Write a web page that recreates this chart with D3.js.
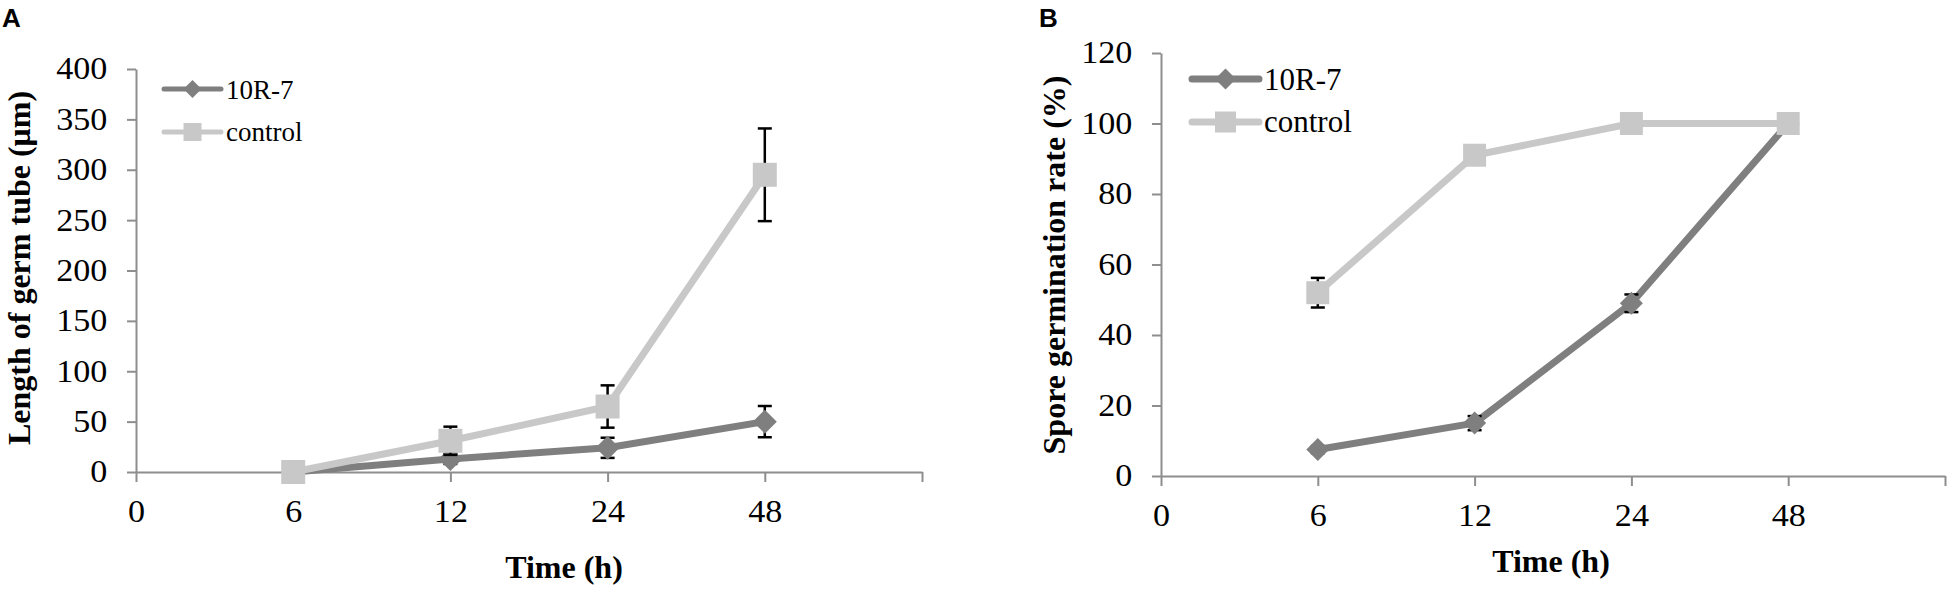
<!DOCTYPE html>
<html>
<head>
<meta charset="utf-8">
<script src="https://cdn.jsdelivr.net/npm/d3@7"></script>
<style>
  body { margin: 0; background: #fff; }
  svg { display: block; }
</style>
</head>
<body>
<div id="chart"></div>
<script>
// Data
var timeLabels = ["0", "6", "12", "24", "48", ""];
var hours = ["6", "12", "24", "48"];

// Panel A: length of germ tube (um)
var lenR7 = [0, 13, 24, 50];
var lenR7Err = [1, 5, 10, 15.5];
var lenCtrl = [0, 31, 65, 295];
var lenCtrlErr = [1, 14, 21, 46];
var lenTicks = [0, 50, 100, 150, 200, 250, 300, 350, 400];

// Panel B: spore germination rate (%)
var rateR7 = [7.5, 15, 49, 100];
var rateR7Err = [1, 2, 2.5, 0.5];
var rateCtrl = [52, 91, 100, 100];
var rateCtrlErr = [4.2, 1, 0.5, 0.5];
var rateTicks = [0, 20, 40, 60, 80, 100, 120];

var seriesNames = ["10R-7", "control"];

// Styles
var darkGray = "#7f7f7f";
var lightGray = "#c8c8c8";
var axisColor = "#8e8e8e";
var serif = "'Liberation Serif', 'Times New Roman', serif";

var svg = d3.select("#chart")
    .append("svg")
    .attr("width", 1951)
    .attr("height", 589);

function drawPanel(cfg) {
    var g = svg.append("g");

    var x = d3.scalePoint()
        .domain(timeLabels)
        .range(cfg.xRange);
    var y = d3.scaleLinear()
        .domain(d3.extent(cfg.ticks))
        .range(cfg.yRange);

    // Axes (labels are a bit wider than plain Times in the figure)
    var yAxis = g.append("g")
        .attr("transform", "translate(" + cfg.xRange[0] + ",0)")
        .call(d3.axisLeft(y).tickValues(cfg.ticks).tickSize(9).tickSizeOuter(0).tickPadding(17));
    var xAxis = g.append("g")
        .attr("transform", "translate(0," + cfg.yRange[0] + ")")
        .call(d3.axisBottom(x).tickSize(10).tickSizeOuter(0).tickPadding(18));

    [xAxis, yAxis].forEach(function(a) {
        a.selectAll("path, line").attr("stroke", axisColor).attr("stroke-width", 2);
        a.selectAll("text")
            .attr("fill", "#000")
            .attr("transform", "scale(1.1,1)")
            .style("font-family", serif)
            .style("font-size", "31px");
    });

    var series = [
        {vals: cfg.r7, err: cfg.r7Err, color: darkGray, shape: "diamond"},
        {vals: cfg.ctrl, err: cfg.ctrlErr, color: lightGray, shape: "square"}
    ];

    var line = d3.line()
        .x(function(d, i) { return x(hours[i]); })
        .y(function(d) { return y(d); });

    series.forEach(function(s) {
        g.append("path")
            .attr("d", line(s.vals))
            .attr("fill", "none")
            .attr("stroke", s.color)
            .attr("stroke-width", 7)
            .attr("stroke-linejoin", "round");

        // Error bars
        var eb = g.append("g").attr("stroke", "#000").attr("stroke-width", 2.5);
        s.vals.forEach(function(v, i) {
            var cx = x(hours[i]);
            var top = y(v + s.err[i]);
            var bot = y(Math.max(0, v - s.err[i]));
            eb.append("line").attr("x1", cx).attr("x2", cx).attr("y1", top).attr("y2", bot);
            eb.append("line").attr("x1", cx - 7).attr("x2", cx + 7).attr("y1", top).attr("y2", top);
            if (v - s.err[i] >= 0) {
                eb.append("line").attr("x1", cx - 7).attr("x2", cx + 7).attr("y1", bot).attr("y2", bot);
            }
        });

        // Markers
        var sym = s.shape === "diamond"
            ? d3.symbol().type(d3.symbolSquare).size(cfg.markerSize * 0.5)
            : d3.symbol().type(d3.symbolSquare).size(cfg.markerSize);
        g.selectAll(null)
            .data(s.vals)
            .join("path")
            .attr("d", sym)
            .attr("transform", function(d, i) {
                return "translate(" + x(hours[i]) + "," + y(d) + ")" + (s.shape === "diamond" ? " rotate(45)" : "");
            })
            .attr("fill", s.color);
    });

    // Legend
    var lg = g.append("g");
    series.forEach(function(s, i) {
        var ly = cfg.legend.y[i];
        lg.append("line")
            .attr("x1", cfg.legend.x1).attr("x2", cfg.legend.x2)
            .attr("y1", ly).attr("y2", ly)
            .attr("stroke", s.color)
            .attr("stroke-width", cfg.legend.lineWidth)
            .attr("stroke-linecap", "round");
        var ls = d3.symbol().type(d3.symbolSquare)
            .size(s.shape === "diamond" ? cfg.legend.marker * 0.5 : cfg.legend.marker);
        lg.append("path")
            .attr("d", ls)
            .attr("transform", "translate(" + (cfg.legend.x1 + cfg.legend.x2) / 2 + "," + ly + ")" + (s.shape === "diamond" ? " rotate(45)" : ""))
            .attr("fill", s.color);
        lg.append("text")
            .attr("x", cfg.legend.x2 + 5)
            .attr("y", cfg.legend.base[i])
            .style("font-family", serif)
            .style("font-size", cfg.legend.font + "px")
            .text(seriesNames[i]);
    });

    // Titles
    g.append("text")
        .attr("transform", "translate(" + cfg.yTitle.x + "," + cfg.yTitle.y + ") rotate(-90)")
        .attr("text-anchor", "middle")
        .style("font-family", serif)
        .style("font-weight", "bold")
        .style("font-size", "32px")
        .text(cfg.yTitle.text);
    g.append("text")
        .attr("x", cfg.xTitle.x)
        .attr("y", cfg.xTitle.y)
        .attr("text-anchor", "middle")
        .style("font-family", serif)
        .style("font-weight", "bold")
        .style("font-size", "32px")
        .text("Time (h)");

    // Panel letter
    g.append("text")
        .attr("x", cfg.letter.x)
        .attr("y", 27)
        .style("font-family", "'Liberation Sans', Arial, sans-serif")
        .style("font-weight", "bold")
        .style("font-size", "26px")
        .text(cfg.letter.text);
}

drawPanel({
    xRange: [136, 922],
    yRange: [472, 69],
    ticks: lenTicks,
    r7: lenR7, r7Err: lenR7Err,
    ctrl: lenCtrl, ctrlErr: lenCtrlErr,
    markerSize: 24 * 24,
    legend: {x1: 164, x2: 221, y: [89, 132], base: [99, 141], lineWidth: 5, marker: 18 * 18, font: 27},
    yTitle: {x: 30, y: 268, text: "Length of germ tube (\u03bcm)"},
    xTitle: {x: 564, y: 578},
    letter: {x: 2, text: "A"}
});

drawPanel({
    xRange: [1161, 1945],
    yRange: [476, 53],
    ticks: rateTicks,
    r7: rateR7, r7Err: rateR7Err,
    ctrl: rateCtrl, ctrlErr: rateCtrlErr,
    markerSize: 23 * 23,
    legend: {x1: 1192, x2: 1259, y: [79, 122], base: [90, 132], lineWidth: 7, marker: 21 * 21, font: 31},
    yTitle: {x: 1065, y: 265, text: "Spore germination rate (%)"},
    xTitle: {x: 1551, y: 572},
    letter: {x: 1039, text: "B"}
});
</script>
</body>
</html>
